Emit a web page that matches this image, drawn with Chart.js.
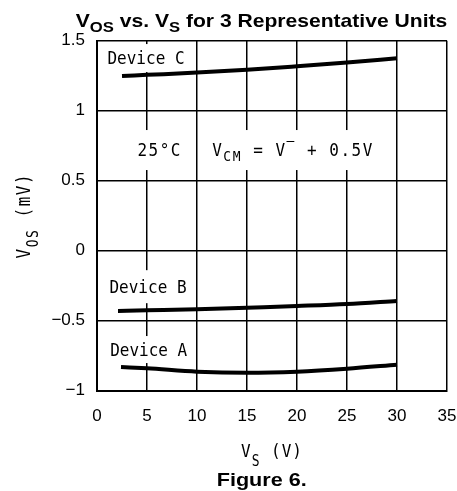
<!DOCTYPE html>
<html><head><meta charset="utf-8">
<script src="https://cdn.jsdelivr.net/npm/chart.js@4/dist/chart.umd.min.js"></script>
<style>html,body{margin:0;padding:0;background:#fff;overflow:hidden}#wrap{width:457px;height:491px;position:relative}</style>
</head><body><div id="wrap"><canvas id="c" width="457" height="491"></canvas></div>
<script>
// ---- data ----
const xTicks = [0, 5, 10, 15, 20, 25, 30, 35];
const xTickLabels = ['0', '5', '10', '15', '20', '25', '30', '35'];
const yTicks = [-1, -0.5, 0, 0.5, 1, 1.5];
const yTickLabels = ['\u22121', '\u22120.5', '0', '0.5', '1', '1.5'];

const vsA = [2.4, 5, 10, 15, 20, 25, 30];
const vosA = [-0.831, -0.840, -0.864, -0.872, -0.864, -0.843, -0.814];
const vsB = [2.1, 5, 10, 15, 20, 25, 30];
const vosB = [-0.430, -0.426, -0.419, -0.407, -0.395, -0.381, -0.359];
const vsC = [2.5, 5, 10, 15, 20, 25, 30];
const vosC = [1.248, 1.256, 1.272, 1.292, 1.317, 1.344, 1.374];

const seriesNames = ['Device A', 'Device B', 'Device C'];

// ---- annotation text (positions in data units) ----
const MONO = '"DejaVu Sans Mono", monospace';
const SANS = '"Liberation Sans", Arial, sans-serif';
const notes = [
  {x: 4.9,  y: 1.376,  parts: [{t: 'Device C'}], boxH: 28, padX: 5, ls: 0},
  {x: 5.1,  y: -0.257, parts: [{t: 'Device B'}], boxH: 33, padX: 5, ls: 0},
  {x: 5.17, y: -0.706, parts: [{t: 'Device A'}], boxH: 27, padX: 5, ls: 0},
  {x: 6.27, y: 0.719,  parts: [{t: '25\u00B0C'}], boxH: 40, padX: 6, ls: 1.5},
  {x: 19.6, y: 0.719,  parts: [{t: 'V'}, {t: 'CM', sub: 1}, {t: ' = V'}, {t: '\u2012', sup: 1}, {t: ' + 0.5V'}], boxH: 40, padX: 8, ls: 1.5}
];

function rich(ctx, parts, cx, baseY, o) {
  const size = o.size, subSize = o.subSize || Math.round(size * 0.8);
  ctx.save();
  ctx.letterSpacing = (o.ls || 0) + 'px';
  const fontFor = p => `${o.weight || 'normal'} ${(p.sub || p.sup) ? subSize : size}px ${o.family}`;
  let w = 0;
  parts.forEach(p => { ctx.font = fontFor(p); p._w = ctx.measureText(p.t).width; w += p._w; });
  ctx.translate(cx, baseY);
  if (o.rot) ctx.rotate(o.rot);
  ctx.scale(o.sx || 1, o.sy || 1);
  let xx = -w / 2;
  ctx.fillStyle = '#000';
  ctx.textBaseline = 'alphabetic';
  ctx.textAlign = 'left';
  parts.forEach(p => {
    ctx.font = fontFor(p);
    const dy = p.sub ? (o.subDy || 4) : p.sup ? -(o.supDy || 6) : 0;
    ctx.fillText(p.t, xx, dy);
    xx += p._w;
  });
  ctx.restore();
  return w * (o.sx || 1);
}

const deco = {
  id: 'deco',
  beforeDatasetsDraw(chart) {
    const {ctx, scales: {x, y}} = chart;
    notes.forEach(n => {
      const cx = x.getPixelForValue(n.x), cy = y.getPixelForValue(n.y);
      ctx.save();
      ctx.letterSpacing = n.ls + 'px';
      let w = 0;
      n.parts.forEach(p => { ctx.font = `${(p.sub || p.sup) ? 13 : 16}px ${MONO}`; w += ctx.measureText(p.t).width; });
      ctx.restore();
      ctx.save();
      ctx.fillStyle = '#fff';
      ctx.fillRect(cx - w / 2 - n.padX, cy - n.boxH / 2, w + 2 * n.padX, n.boxH);
      ctx.restore();
      rich(ctx, n.parts, cx, cy + 6, {size: 16, subSize: 13, family: MONO, ls: n.ls, subDy: 5, supDy: 10, sy: 1.08});
    });
  },
  afterDraw(chart) {
    const ctx = chart.ctx;
    const {left, right, top, bottom} = chart.chartArea;
    // title
    rich(ctx, [{t: 'V'}, {t: 'OS', sub: 1}, {t: ' vs. V'}, {t: 'S', sub: 1}, {t: ' for 3 Representative Units'}],
      261.5, 27, {size: 19, subSize: 15, subDy: 5, weight: 'bold', family: SANS, sx: 1.11});
    // x axis title
    rich(ctx, [{t: 'V'}, {t: 'S', sub: 1}, {t: ' (V)'}], (left + right) / 2, 457,
      {size: 16, subSize: 13, subDy: 8, family: MONO, ls: 1, sy: 1.15});
    // y axis title
    rich(ctx, [{t: 'V'}, {t: 'OS', sub: 1}, {t: ' (mV)'}], 30, (top + bottom) / 2,
      {size: 16, subSize: 13, subDy: 6, family: MONO, ls: 1.5, rot: -Math.PI / 2, sy: 1.25});
    // caption
    rich(ctx, [{t: 'Figure 6.'}], 261.7, 486, {size: 18, weight: 'bold', family: SANS, sx: 1.2});
  }
};

const mk = (xs, ys) => xs.map((v, i) => ({x: v, y: ys[i]}));

new Chart(document.getElementById('c'), {
  type: 'line',
  data: {
    datasets: [
      {label: seriesNames[0], data: mk(vsA, vosA)},
      {label: seriesNames[1], data: mk(vsB, vosB)},
      {label: seriesNames[2], data: mk(vsC, vosC)}
    ].map(d => Object.assign(d, {borderColor: '#000', borderWidth: 4, pointRadius: 0, fill: false, cubicInterpolationMode: 'monotone', borderCapStyle: 'butt'}))
  },
  options: {
    responsive: false,
    animation: false,
    devicePixelRatio: 1,
    layout: {padding: {left: 0, right: 10, top: 40.7, bottom: 0}},
    plugins: {legend: {display: false}, title: {display: false}, tooltip: {enabled: false}},
    scales: {
      x: {
        type: 'linear', min: 0, max: 35,
        afterFit(s) { s.height = 100.3; s.paddingLeft = 0; s.paddingRight = 0; },
        afterBuildTicks(s) { s.ticks = xTicks.map(v => ({value: v})); },
        ticks: {
          callback: (v) => xTickLabels[xTicks.indexOf(v)],
          color: '#000', font: {family: SANS, size: 17}, padding: 15, maxRotation: 0, autoSkip: false
        },
        grid: {color: '#000', lineWidth: 1.5, drawTicks: false},
        border: {color: '#000', width: 2}
      },
      y: {
        type: 'linear', min: -1, max: 1.5,
        afterFit(s) { s.width = 97; s.paddingTop = 0; s.paddingBottom = 0; },
        afterBuildTicks(s) { s.ticks = yTicks.map(v => ({value: v})); },
        ticks: {
          callback: (v) => yTickLabels[yTicks.indexOf(v)],
          color: '#000', font: {family: SANS, size: 17}, padding: 12, autoSkip: false
        },
        grid: {color: '#000', lineWidth: 1.5, drawTicks: false},
        border: {color: '#000', width: 2}
      }
    }
  },
  plugins: [deco]
});
</script></body></html>
